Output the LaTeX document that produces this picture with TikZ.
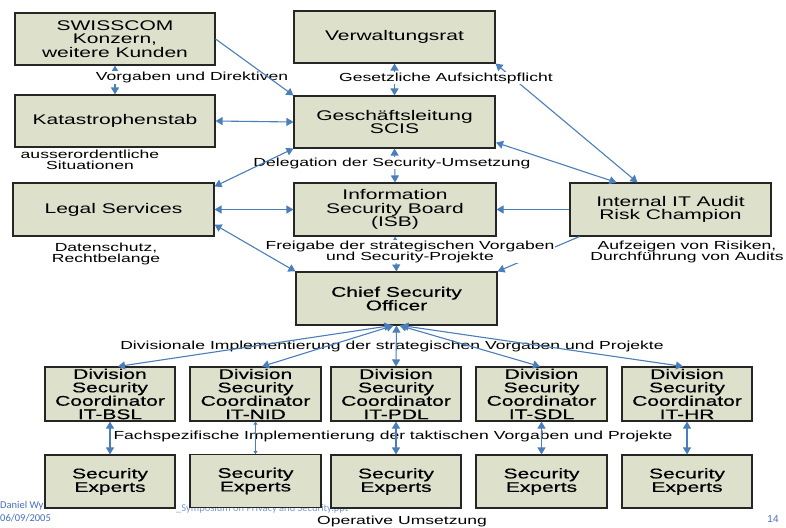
\documentclass[tikz,border=0pt]{standalone}
\usepackage{fontspec}
\setmainfont{Liberation Sans}[FakeStretch=1.5]
\newfontfamily\semibf{Liberation Sans}[FakeStretch=1.5,FakeBold=0.5]
\newfontfamily\footfont{Carlito}
\newfontfamily\plainsans{Liberation Sans}
\usetikzlibrary{arrows.meta,calc}
\definecolor{boxfill}{RGB}{221,225,204}
\definecolor{arrowblue}{RGB}{74,126,187}
\definecolor{footblue}{RGB}{70,110,190}
\tikzset{
  box/.style={draw=black!85, line width=1.1pt, fill=boxfill, align=center,
    font=\fontsize{14}{13.5}\selectfont, inner sep=0pt},
  bigbox/.style={box, minimum width=201pt, minimum height=52pt},
  smallbox/.style={box, minimum width=130pt, minimum height=53pt},
  conn/.style={draw=arrowblue, line width=1.1pt},
  tip/.tip={Triangle[length=7pt,width=8pt]},
  both/.style={conn, tip-tip},
  one/.style={conn, -tip},
  lbl/.style={align=center, font=\fontsize{11.7}{11}\selectfont, inner sep=1pt},
  lblw/.style={lbl, fill=white},
}
\begin{document}
\begin{tikzpicture}[x=1pt,y=-1pt]
\useasboundingbox (0,0) rectangle (786,527);
% footer (partly behind boxes)
\node[anchor=west, inner sep=0pt, text=footblue, font=\footfont\fontsize{10.5}{10.5}\selectfont] (foot1) at (0,506) {Daniel Wy};
\node[anchor=west, inner sep=0pt, text=footblue!70, font=\footfont\fontsize{10.5}{10.5}\selectfont] (foot2) at (176,509) {\_Symposium on Privacy and Security.ppt};
\node[anchor=west, inner sep=0pt, text=footblue, font=\footfont\fontsize{10.5}{10.5}\selectfont] (date) at (0,518) {06/09/2005};
\node[inner sep=0pt, text=footblue, font=\plainsans\fontsize{10}{10}\selectfont] (page) at (773,519) {14};

% boxes
\node[bigbox, minimum width=200pt] (swiss) at (115,39) {SWISSCOM\\Konzern,\\weitere Kunden};
\node[bigbox] (verw) at (394.5,37) {Verwaltungsrat};
\node[bigbox, minimum width=200pt] (kat) at (115,121) {Katastrophenstab};
\node[bigbox] (gl) at (394.5,122) {Gesch\"aftsleitung\\SCIS};
\node[bigbox, minimum height=53pt] (legal) at (113.5,209.5) {Legal Services};
\node[bigbox, minimum height=53pt, minimum width=202pt] (isb) at (395,209.5) {Information\\Security Board\\(ISB)};
\node[bigbox, minimum height=53pt] (audit) at (670.5,209.5) {Internal IT Audit\\Risk Champion};
\node[bigbox, minimum height=53pt, font=\semibf\fontsize{14}{13.5}\selectfont] (cso) at (396.5,298.5) {Chief Security\\Officer};

\tikzset{divbox/.style={smallbox, minimum height=54pt, font=\semibf\fontsize{14}{13.4}\selectfont}}
\node[divbox] (div1) at (110,394) {Division\\Security\\Coordinator\\IT-BSL};
\node[divbox, minimum width=131pt] (div2) at (255.5,394) {Division\\Security\\Coordinator\\IT-NID};
\node[divbox] (div3) at (396,394) {Division\\Security\\Coordinator\\IT-PDL};
\node[divbox, minimum width=131pt] (div4) at (541.5,394) {Division\\Security\\Coordinator\\IT-SDL};
\node[divbox] (div5) at (687,394) {Division\\Security\\Coordinator\\IT-HR};

\tikzset{expbox/.style={smallbox, font=\semibf\fontsize{14}{13.5}\selectfont}}
\node[expbox] (exp1) at (110,481.5) {Security\\Experts};
\node[expbox, minimum width=131pt] (exp2) at (255.5,481) {Security\\Experts};
\node[expbox] (exp3) at (396,481.5) {Security\\Experts};
\node[expbox, minimum width=131pt] (exp4) at (541.5,481.5) {Security\\Experts};
\node[expbox] (exp5) at (687,481.5) {Security\\Experts};

% connectors hidden behind labels
\draw[both] (swiss.south) -- (kat.north);
\draw[both] (verw.south) -- (gl.north);
\draw[both] (gl.south) -- (isb.north);
\draw[both] (isb.south) -- (cso.north);
\draw[both] (verw.south east) -- ($(audit.north west)+(68,0)$);
\draw[one] ($(audit.south west)+(10,0)$) -- (cso.north east);

% labels with white background
\node[lblw] (l1) at (192,77.5) {Vorgaben und Direktiven};
\node[lblw] (l2) at (446,78) {Gesetzliche Aufsichtspflicht};
\node[lblw] (l3) at (392,163) {Delegation der Security-Umsetzung};
\node[lblw] (l4) at (410,251.5) {Freigabe der strategischen Vorgaben\\und Security-Projekte};

% other labels
\node[lbl] (l5) at (90,160) {ausserordentliche\\Situationen};
\node[lbl] (l6) at (106,254) {Datenschutz,\\Rechtbelange};
\node[lbl] (l7) at (687,252) {Aufzeigen von Risiken,\\Durchf\"uhrung von Audits};
\node[lbl] (l8) at (392,346) {Divisionale Implementierung der strategischen Vorgaben und Projekte};
\node[lbl] (l9) at (393,436) {Fachspezifische Implementierung der taktischen Vorgaben und Projekte};
\node[lbl] (l10) at (402,521) {Operative Umsetzung};

% remaining connectors
\draw[one] (swiss.east) -- (gl.north west);
\draw[both] (kat.east) -- (gl.west);
\draw[both] ($(gl.south east)+(0.5,-6)$) -- ($(audit.north west)+(47,0)$);
\draw[both] ($(legal.north east)+(0,4)$) -- (gl.south west);
\draw[both] (legal.east) -- (isb.west);
\draw[both] ($(legal.south east)+(0,-12)$) -- (cso.north west);
\draw[one] (audit.west) -- (isb.east);

% CSO to divisions
\draw[both] ($(cso.south)+(-5,0)$) -- ($(div1.north)+(8,0)$);
\draw[both] ($(cso.south)+(-3,0)$) -- ($(div2.north)+(6.5,0)$);
\draw[both] (cso.south) -- (div3.north);
\draw[both] ($(cso.south)+(3,0)$) -- ($(div4.north)+(-1.5,0)$);
\draw[both] ($(cso.south)+(5,0)$) -- ($(div5.north)+(-4,0)$);

% divisions to experts
\draw[both] (div1.south) -- (exp1.north);
\draw[conn, line width=0.8pt, -{Triangle[length=3pt,width=4pt]}] (div2.south) -- (exp2.north);
\draw[conn, line width=0.8pt, -{Triangle[length=3pt,width=4pt]}] (exp2.north) -- (div2.south);
\draw[both] (div3.south) -- (exp3.north);
\draw[both] (div4.south) -- (exp4.north);
\draw[both] (div5.south) -- (exp5.north);
\end{tikzpicture}
\end{document}
